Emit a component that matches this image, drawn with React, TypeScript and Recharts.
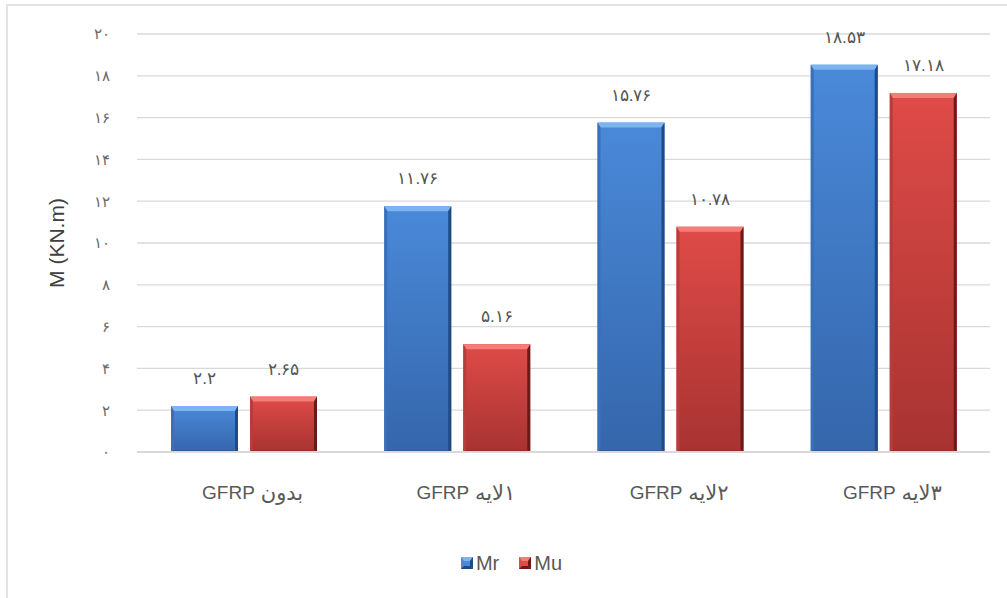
import React from 'react';
import { BarChart, Bar, XAxis, YAxis, CartesianGrid, LabelList, Legend } from 'recharts';

const categories = ['بدون GFRP', '۱لایه GFRP', '۲لایه  GFRP', '۳لایه  GFRP'];
const mrValues = [2.2, 11.76, 15.76, 18.53];
const muValues = [2.65, 5.16, 10.78, 17.18];
const yTicks = [0, 2, 4, 6, 8, 10, 12, 14, 16, 18, 20];

const data = categories.map((c, i) => ({ name: c, Mr: mrValues[i], Mu: muValues[i] }));

const FA = '۰۱۲۳۴۵۶۷۸۹';
const fa = (v: any) => String(v).replace(/\d/g, (d) => FA[+d]);

const FONT = "'Liberation Sans', 'DejaVu Sans', Arial, sans-serif";

type Pal = { light: string; top: string; bottom: string; left: string; right: string; base: string };
const BLUE: Pal = { light: '#7cb4f2', top: '#4a89d9', bottom: '#3466ab', left: '#3a70b8', right: '#1f4a82', base: '#2f5c99' };
const RED: Pal = { light: '#f47c79', top: '#df4b48', bottom: '#a73331', left: '#b83c3a', right: '#6b1a19', base: '#962c2a' };

const makeShape = (p: Pal, key: string) => (props: any) => {
  const { x, y, width: w, height: h, index } = props;
  if (!h || h <= 0) return <g />;
  const b = Math.min(5, h / 2);
  const s = 3;
  const id = `grad-${key}-${index}`;
  return (
    <g>
      <defs>
        <linearGradient id={id} x1="0" y1="0" x2="0" y2="1">
          <stop offset="0%" stopColor={p.top} />
          <stop offset="100%" stopColor={p.bottom} />
        </linearGradient>
      </defs>
      <rect x={x} y={y} width={w} height={h} fill={`url(#${id})`} />
      <polygon points={`${x},${y} ${x + w},${y} ${x + w - s},${y + b} ${x + s},${y + b}`} fill={p.light} />
      <polygon points={`${x},${y} ${x + s},${y + b} ${x + s},${y + h - 2} ${x},${y + h}`} fill={p.left} />
      <polygon points={`${x + w},${y} ${x + w},${y + h} ${x + w - s},${y + h - 2} ${x + w - s},${y + b}`} fill={p.right} />
      <polygon points={`${x},${y + h} ${x + s},${y + h - 2} ${x + w - s},${y + h - 2} ${x + w},${y + h}`} fill={p.base} />
    </g>
  );
};

const XTick = (props: any) => {
  const { x, y, payload } = props;
  const label: string = payload.value;
  const idx = label.indexOf('GFRP');
  const ar = label.slice(0, idx);
  const lat = label.slice(idx);
  return (
    <text
      x={x + 9}
      y={y + 32}
      textAnchor="middle"
      direction="rtl"
      dominantBaseline="central"
      fill="#595959"
      fontFamily={FONT}
    >
      <tspan fontSize={21}>{ar}</tspan>
      <tspan fontSize={19}>{lat}</tspan>
    </text>
  );
};

const LegendIcon = ({ p }: { p: Pal }) => (
  <svg width={12} height={12} style={{ display: 'block' }}>
    <rect x={0} y={0} width={12} height={12} fill={p.top} />
    <polygon points="0,0 12,0 9,4 3,4" fill={p.light} />
    <polygon points="0,12 3,9 9,9 12,12" fill={p.right} />
    <polygon points="12,0 12,12 9,9 9,4" fill={p.right} />
  </svg>
);

const LegendContent = () => (
  <div
    style={{
      width: 1007,
      height: 30,
      display: 'flex',
      justifyContent: 'center',
      alignItems: 'center',
      paddingLeft: 16,
      boxSizing: 'border-box',
      fontFamily: FONT,
      fontSize: 20,
      color: '#595959',
    }}
  >
    <div style={{ display: 'flex', alignItems: 'center', marginRight: 20 }}>
      <LegendIcon p={BLUE} />
      <span style={{ marginLeft: 3 }}>Mr</span>
    </div>
    <div style={{ display: 'flex', alignItems: 'center' }}>
      <LegendIcon p={RED} />
      <span style={{ marginLeft: 3 }}>Mu</span>
    </div>
  </div>
);

export default function App() {
  return (
    <div style={{ position: 'absolute', left: 0, top: 0, width: 1007, height: 598, overflow: 'hidden', background: '#fff' }}>
      <div
        style={{
          position: 'absolute',
          left: 6,
          top: 4,
          width: 1020,
          height: 620,
          border: '2px solid #e3e3e3',
          boxSizing: 'border-box',
        }}
      />
      <div style={{ position: 'absolute', left: 0, top: 0 }}>
        <BarChart
          width={1007}
          height={598}
          data={data}
          margin={{ top: 34, right: 17, left: 0, bottom: 20 }}
          barSize={67}
          barGap={12}
        >
          <CartesianGrid vertical={false} stroke="#d9d9d9" strokeWidth={1.3} />
          <XAxis
            dataKey="name"
            tick={<XTick />}
            tickLine={false}
            axisLine={{ stroke: '#d9d9d9', strokeWidth: 2 }}
            height={96}
            interval={0}
          />
          <YAxis
            domain={[0, 20]}
            ticks={yTicks}
            width={137}
            tickLine={false}
            axisLine={false}
            tickMargin={21}
            tickFormatter={fa}
            tick={{ fill: '#6a6a6a', fontSize: 15, fontFamily: FONT, fontWeight: 200 }}
            label={{
              content: () => (
                <text
                  x={56}
                  y={243}
                  transform="rotate(-90 56 243)"
                  textAnchor="middle"
                  dominantBaseline="central"
                  fill="#404040"
                  fontSize={21}
                  fontFamily={FONT}
                >
                  M (KN.m)
                </text>
              ),
            }}
          />
          <Legend verticalAlign="bottom" content={<LegendContent />} wrapperStyle={{ left: 0, width: 1007, bottom: 20, height: 30 }} />
          <Bar dataKey="Mr" fill={BLUE.top} shape={makeShape(BLUE, 'mr')} isAnimationActive={false}>
            <LabelList dataKey="Mr" position="top" offset={22} formatter={fa} fill="#555555" fontSize={17} letterSpacing={2} fontWeight={200} fontFamily={FONT} />
          </Bar>
          <Bar dataKey="Mu" fill={RED.top} shape={makeShape(RED, 'mu')} isAnimationActive={false}>
            <LabelList dataKey="Mu" position="top" offset={22} formatter={fa} fill="#555555" fontSize={17} letterSpacing={2} fontWeight={200} fontFamily={FONT} />
          </Bar>
        </BarChart>
      </div>
    </div>
  );
}
